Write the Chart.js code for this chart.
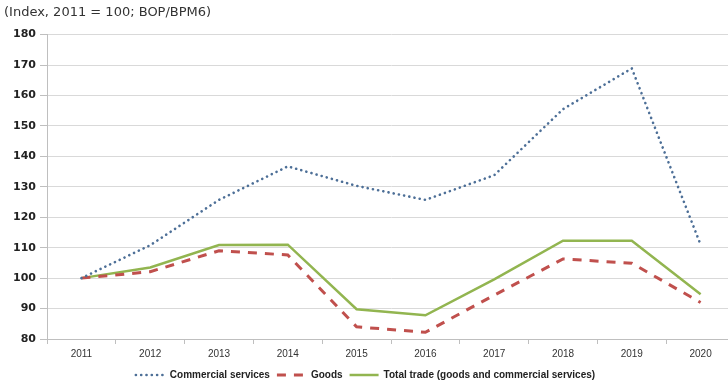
<!DOCTYPE html>
<html>
<head>
<meta charset="utf-8">
<script src="https://cdn.jsdelivr.net/npm/chart.js@4.4.1/dist/chart.umd.min.js"></script>
<style>
  html, body { margin: 0; padding: 0; background: #fff; overflow: hidden; }
  #wrap { position: relative; width: 735px; height: 385px; }
</style>
</head>
<body>
<div id="wrap"><canvas id="myChart"></canvas></div>
<script>
const years = ['2011','2012','2013','2014','2015','2016','2017','2018','2019','2020']
const commercialServices = [100, 110.8, 125.7, 136.7, 130.3, 125.7, 133.8, 155.5, 168.9, 111]
const goods = [100, 102.1, 109, 107.6, 84, 82.2, 94.4, 106.3, 104.9, 92]
const totalTrade = [100, 103.5, 110.9, 111, 89.8, 87.8, 99.6, 112.3, 112.3, 94.7]
const yTicks = [80, 90, 100, 110, 120, 130, 140, 150, 160, 170, 180]
const titleText = '(Index, 2011 = 100; BOP/BPM6)'

// legend sits a little left of the plot centre
const legendShift = {
  id: 'legendShift',
  afterLayout(chart) {
    const lg = chart.legend
    if (!lg) return
    lg.left -= 4
    lg.right -= 4
  }
}

window.onload = () => {
  const ctx = document.getElementById('myChart')

  const datasets = [
    {
      label: 'Commercial services',
      data: commercialServices,
      borderColor: '#4d6f97',
      borderWidth: 2.6,
      borderDash: [0.1, 5.2],
      borderCapStyle: 'round',
      pointRadius: 0
    },
    {
      label: 'Goods',
      data: goods,
      borderColor: '#c0504d',
      borderWidth: 3,
      borderDash: [9, 8],
      borderCapStyle: 'butt',
      pointRadius: 0
    },
    {
      label: 'Total trade (goods and commercial services)',
      data: totalTrade,
      borderColor: '#92b550',
      borderWidth: 2.5,
      borderCapStyle: 'butt',
      pointRadius: 0
    }
  ]

  const config = {
    type: 'line',
    data: { labels: years, datasets: datasets },
    options: {
      responsive: true,
      maintainAspectRatio: false,
      animation: false,
      layout: { padding: { left: 4, right: 0, top: 0, bottom: -5 } },
      plugins: {
        title: {
          display: true,
          text: titleText,
          align: 'start',
          color: '#333',
          font: { family: 'DejaVu Sans', size: 13, weight: 'normal' },
          padding: { top: 5, bottom: 14 }
        },
        legend: {
          position: 'bottom',
          labels: {
            usePointStyle: true,
            pointStyle: 'line',
            pointStyleWidth: 29,
            boxHeight: 8,
            padding: 7,
            color: '#222',
            font: { family: 'Liberation Sans', size: 10, weight: 'bold' },
            // keep each line's dash pattern in its legend sample
            generateLabels(chart) {
              const items = Chart.defaults.plugins.legend.labels.generateLabels(chart)
              items.forEach(it => {
                const ds = chart.data.datasets[it.datasetIndex]
                it.pointStyle = 'line'
                it.strokeStyle = ds.borderColor
                it.lineWidth = ds.borderWidth
                it.lineDash = ds.borderDash || []
                it.lineCap = ds.borderCapStyle
              })
              return items
            }
          }
        },
        tooltip: { enabled: false }
      },
      scales: {
        x: {
          offset: true,
          grid: { offset: true, drawOnChartArea: false, drawTicks: true, tickLength: 5, color: '#bfbfbf' },
          border: { color: '#bfbfbf' },
          ticks: {
            padding: 4,
            color: '#333',
            maxRotation: 0,
            font: { family: "'Liberation Sans Narrow', 'Liberation Sans'", size: 10 }
          },
          afterFit(s) { s.height = 24 }
        },
        y: {
          min: 80,
          max: 180,
          afterBuildTicks(s) { s.ticks = yTicks.map(v => ({ value: v })) },
          grid: { color: '#d9d9d9', tickLength: 7, tickColor: '#bfbfbf' },
          border: { color: '#bfbfbf' },
          ticks: {
            padding: 4,
            color: '#222',
            font: { family: 'DejaVu Sans', size: 11, weight: 'bold' }
          },
          afterFit(s) { s.width = 43 }
        }
      }
    },
    plugins: [legendShift]
  }

  new Chart(ctx, config)
}
</script>
</body>
</html>
